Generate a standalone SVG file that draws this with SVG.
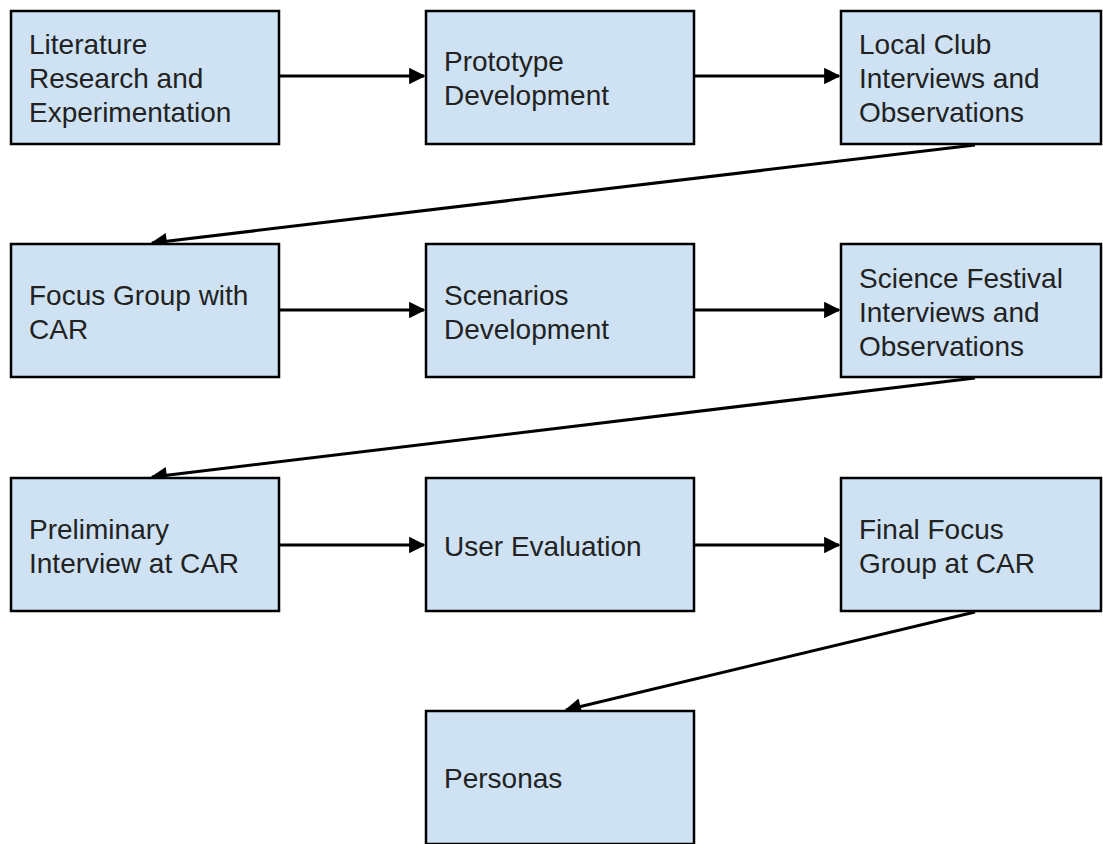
<svg xmlns="http://www.w3.org/2000/svg" width="1103" height="844" viewBox="0 0 1103 844">
<defs>
<style>
.box{fill:#cfe2f3;stroke:#000;stroke-width:2.5}
.t{font-family:"Liberation Sans",Arial,sans-serif;font-size:28px;fill:#222}
.c{stroke:#000;stroke-width:3;fill:none}
</style>
<marker id="ah" viewBox="0 0 10 10" refX="9" refY="5" markerWidth="7" markerHeight="5.5" markerUnits="strokeWidth" orient="auto">
<path d="M0,0 L10,5 L0,10 z" fill="#000"/>
</marker>
</defs>
<rect width="1103" height="844" fill="#fff"/>
<g id="connectors">
<line class="c" x1="280" y1="76" x2="424" y2="76" marker-end="url(#ah)"/>
<line class="c" x1="695" y1="76" x2="839" y2="76" marker-end="url(#ah)"/>
<line class="c" x1="975" y1="145" x2="152" y2="243" marker-end="url(#ah)"/>
<line class="c" x1="280" y1="310" x2="424" y2="310" marker-end="url(#ah)"/>
<line class="c" x1="695" y1="310" x2="839" y2="310" marker-end="url(#ah)"/>
<line class="c" x1="975" y1="378" x2="152" y2="477" marker-end="url(#ah)"/>
<line class="c" x1="280" y1="545" x2="424" y2="545" marker-end="url(#ah)"/>
<line class="c" x1="695" y1="545" x2="839" y2="545" marker-end="url(#ah)"/>
<line class="c" x1="975" y1="612" x2="566" y2="710" marker-end="url(#ah)"/>
</g>
<g id="n1"><rect class="box" x="11" y="11" width="268" height="133"/>
<text class="t" x="29" y="54">Literature</text><text class="t" x="29" y="88">Research and</text><text class="t" x="29" y="122">Experimentation</text></g>
<g id="n2"><rect class="box" x="426" y="11" width="268" height="133"/>
<text class="t" x="444" y="71">Prototype</text><text class="t" x="444" y="105">Development</text></g>
<g id="n3"><rect class="box" x="841" y="11" width="260" height="133"/>
<text class="t" x="859" y="54">Local Club</text><text class="t" x="859" y="88">Interviews and</text><text class="t" x="859" y="122">Observations</text></g>
<g id="n4"><rect class="box" x="11" y="244" width="268" height="133"/>
<text class="t" x="29" y="305">Focus Group with</text><text class="t" x="29" y="339">CAR</text></g>
<g id="n5"><rect class="box" x="426" y="244" width="268" height="133"/>
<text class="t" x="444" y="305">Scenarios</text><text class="t" x="444" y="339">Development</text></g>
<g id="n6"><rect class="box" x="841" y="244" width="260" height="133"/>
<text class="t" x="859" y="288">Science Festival</text><text class="t" x="859" y="322">Interviews and</text><text class="t" x="859" y="356">Observations</text></g>
<g id="n7"><rect class="box" x="11" y="478" width="268" height="133"/>
<text class="t" x="29" y="539">Preliminary</text><text class="t" x="29" y="573">Interview at CAR</text></g>
<g id="n8"><rect class="box" x="426" y="478" width="268" height="133"/>
<text class="t" x="444" y="556">User Evaluation</text></g>
<g id="n9"><rect class="box" x="841" y="478" width="260" height="133"/>
<text class="t" x="859" y="539">Final Focus</text><text class="t" x="859" y="573">Group at CAR</text></g>
<g id="n10"><rect class="box" x="426" y="711" width="268" height="133"/>
<text class="t" x="444" y="788">Personas</text></g>
</svg>
